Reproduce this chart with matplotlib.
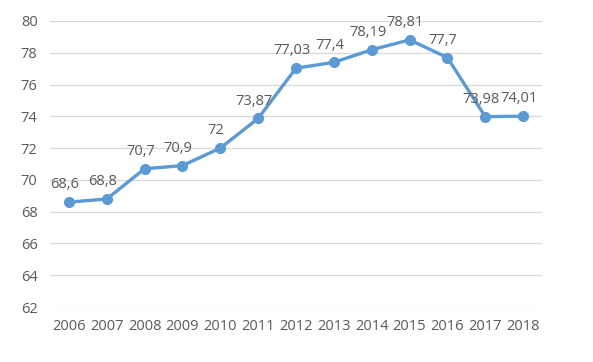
import numpy as np
from matplotlib import pyplot as plt

years = [2006, 2007, 2008, 2009, 2010, 2011, 2012, 2013, 2014, 2015, 2016, 2017, 2018]
values = [68.6, 68.8, 70.7, 70.9, 72, 73.87, 77.03, 77.4, 78.19, 78.81, 77.7, 73.98, 74.01]
labels = ['68,6', '68,8', '70,7', '70,9', '72', '73,87', '77,03', '77,4', '78,19', '78,81', '77,7', '73,98', '74,01']
yticks = [62, 64, 66, 68, 70, 72, 74, 76, 78, 80]

def main():
    plt.rcParams['font.family'] = ['Open Sans', 'DejaVu Sans']
    fig = plt.figure(figsize=(5.93, 3.62), dpi=100)
    ax = fig.add_axes([50 / 593, 1 - 307 / 362, 492 / 593, 286 / 362])

    x = np.arange(len(years))
    ax.plot(x, values, color='#5B9BD5', lw=2.4, marker='o', ms=7, zorder=3)
    for xi, v, lab in zip(x, values, labels):
        ax.annotate(lab, (xi, v), xytext=(-3, 7), textcoords='offset points',
                    ha='center', va='bottom', fontsize=10.5, color='#595959')

    ax.set_xlim(-0.5, len(years) - 0.5)
    ax.set_ylim(62, 80)
    ax.set_yticks(yticks)
    ax.set_xticks(x)
    ax.set_xticklabels([str(y) for y in years])
    ax.grid(axis='y', color='#D9D9D9', lw=0.9)
    ax.set_axisbelow(True)
    for s in ax.spines.values():
        s.set_visible(False)
    ax.tick_params(length=0, labelsize=10.5, colors='#595959', pad=9)
    ax.tick_params(axis='x', pad=9)

    fig.savefig('out.png', dpi=100)

if __name__ == '__main__':
    main()
